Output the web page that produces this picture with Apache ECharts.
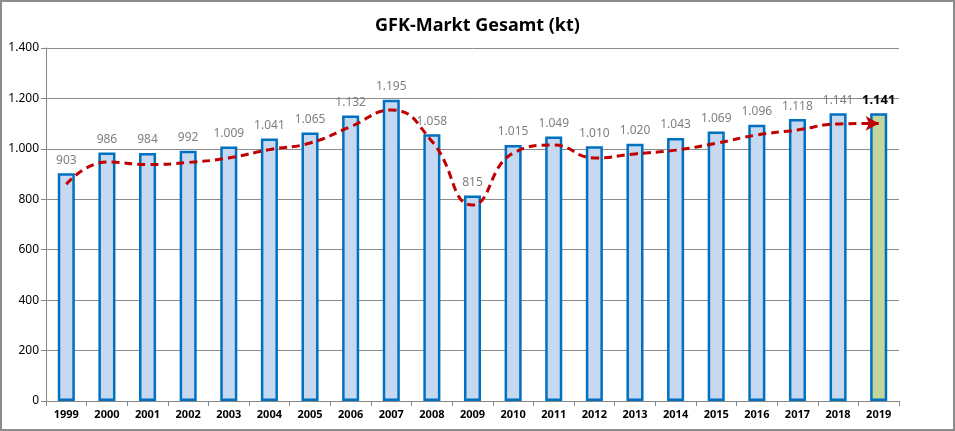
<!DOCTYPE html>
<html>
<head>
<meta charset="utf-8">
<script src="https://cdn.jsdelivr.net/npm/echarts@6/dist/echarts.min.js"></script>
<style>
  html, body { margin: 0; padding: 0; background: #fff; }
  #main { width: 951px; height: 427px; border: 2px solid #8c8c8c; }
</style>
</head>
<body>
<div id="main"></div>
<script>
// Daten
var jahre = ['1999','2000','2001','2002','2003','2004','2005','2006','2007','2008','2009',
             '2010','2011','2012','2013','2014','2015','2016','2017','2018','2019'];
var markt = [903, 986, 984, 992, 1009, 1041, 1065, 1132, 1195, 1058, 815,
             1015, 1049, 1010, 1020, 1043, 1069, 1096, 1118, 1141, 1141];
var trend = [860, 948, 938, 946, 964, 997, 1023, 1088, 1154, 1030, 777,
             983, 1015, 964, 980, 995, 1022, 1055, 1075, 1099, 1101];

function deZahl(v) {
  return String(v).replace(/\B(?=(\d{3})+(?!\d))/g, '.');
}

var chart = echarts.init(document.getElementById('main'));

var letzte = jahre.length - 1;
var balken = markt.map(function (v, i) {
  if (i === letzte) {
    return {
      value: v,
      itemStyle: { color: '#c3d69b' },
      label: { color: '#000', fontWeight: 'bold', fontSize: 13 }
    };
  }
  return v;
});

var linie = trend.map(function (v, i) {
  if (i === letzte) {
    return { value: v, symbol: 'arrow', symbolSize: [11, 13], symbolRotate: -90 };
  }
  return { value: v, symbol: 'none' };
});

var option = {
  animation: false,
  title: {
    text: 'GFK-Markt Gesamt (kt)',
    left: 'center',
    top: 10,
    textStyle: { fontFamily: 'Noto Sans', fontSize: 18, fontWeight: 'bold', color: '#000' }
  },
  grid: { left: 44, right: 54, top: 46, bottom: 28 },
  xAxis: {
    type: 'category',
    data: jahre,
    axisLine: { lineStyle: { color: '#868686' } },
    axisTick: { show: true, alignWithLabel: false, length: 5, lineStyle: { color: '#868686' } },
    axisLabel: { color: '#000', fontWeight: 'bold', fontSize: 11, fontFamily: 'Noto Sans', margin: 8 }
  },
  yAxis: {
    type: 'value',
    min: 0,
    max: 1400,
    interval: 200,
    axisLine: { show: true, lineStyle: { color: '#868686' } },
    axisTick: { show: true, length: 5, lineStyle: { color: '#868686' } },
    axisLabel: { color: '#000', fontSize: 12, fontFamily: 'Noto Sans', formatter: deZahl, margin: 7 },
    splitLine: { lineStyle: { color: '#8c8c8c', width: 1 } }
  },
  series: [
    {
      type: 'bar',
      data: balken,
      barWidth: '42%',
      itemStyle: { color: '#c6d9f1', borderColor: '#0070c0', borderWidth: 2.5 },
      label: {
        show: true,
        position: 'top',
        distance: 7,
        color: '#7f7f7f',
        fontSize: 12,
        fontFamily: 'Noto Sans',
        formatter: function (p) { return deZahl(p.value); }
      },
      z: 2
    },
    {
      type: 'line',
      data: linie,
      smooth: 0.5,
      showSymbol: true,
      lineStyle: { color: '#c00000', width: 3, type: [8, 5] },
      itemStyle: { color: '#c00000' },
      z: 3
    }
  ]
};

chart.setOption(option);
</script>
</body>
</html>
